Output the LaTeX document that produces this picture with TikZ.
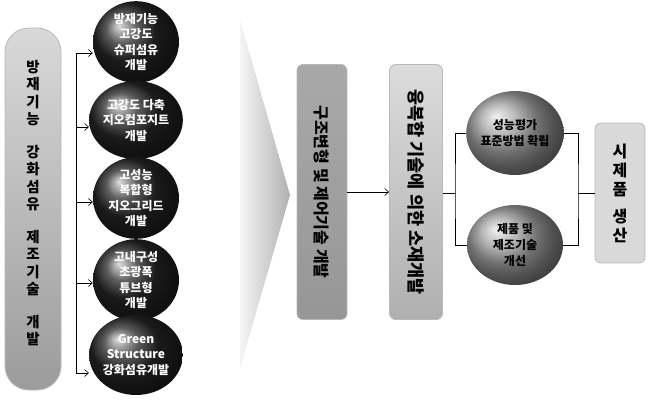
\documentclass[tikz,border=0pt]{standalone}
\usepackage{fontspec}
\usepackage{graphicx}
\newfontfamily\kr{Noto Sans CJK KR}
\usetikzlibrary{shapes.geometric,arrows.meta}
\begin{document}
\begin{tikzpicture}[x=1pt,y=-1pt,
  conn/.style={draw=black,line width=0.6pt},
  arr/.style={conn,-{Straight Barb[length=4pt,width=7pt]}},
  darkball/.style={ellipse,inner sep=0pt,minimum width=86pt,minimum height=78pt,
     ball color=black!85,text=white,align=center,
     font=\kr\bfseries\fontsize{12}{15.5}\selectfont},
  greyball/.style={ellipse,inner sep=0pt,minimum width=96pt,minimum height=84pt,
     ball color=gray!75,text=black,align=center,
     font=\kr\bfseries\fontsize{12}{16}\selectfont},
  vbar/.style={rectangle,inner sep=0pt,draw=gray!55,line width=0.8pt}
]
\useasboundingbox (0,0) rectangle (648,400);
\fill[white] (0,0) rectangle (648,400);

% left bar
\node[vbar,minimum width=56pt,minimum height=362pt,rounded corners=24pt,
      top color=gray!30,bottom color=gray!78] (bar) at (33,209) {};
\node[font=\kr\bfseries\fontsize{14.5}{17.5}\selectfont,align=center,inner sep=0pt] (bartext) at (33,203)
  {방\\재\\기\\능\\[15pt]강\\화\\섬\\유\\[15pt]제\\조\\기\\술\\[15pt]개\\발};

% left circles
\node[darkball] (c1) at (136,42) {방재기능\\고강도\\슈퍼섬유\\개발};
\node[darkball] (c2) at (136,120) {고강도 다축\\지오컴포지트\\개발};
\node[darkball] (c3) at (136,198) {고성능\\복합형\\지오그리드\\개발};
\node[darkball] (c4) at (136,280) {고내구성\\초광폭\\튜브형\\개발};
\node[darkball,minimum height=80pt] (c5) at (136,355) {Green\\Structure\\강화섬유개발};

\coordinate (j1) at (76,53);
\coordinate (j2) at (76,127);
\coordinate (j3) at (76,202);
\coordinate (j4) at (76,283);
\coordinate (j5) at (76,373);
\draw[conn] (j1) -- (j5);
\draw[arr] (j1) -- (j1 -| c1.west);
\draw[arr] (j2) -- (j2 -| c2.west);
\draw[arr] (j3) -- (j3 -| c3.west);
\draw[arr] (j4) -- (j4 -| c4.west);
\draw[arr] (j5) -- (j5 -| c5.west);

% big chevron
\shade[left color=gray!8,right color=gray!62] (240,20) -- (290,195) -- (240,368) -- cycle;

% middle boxes
\node[vbar,minimum width=50pt,minimum height=255pt,rounded corners=6pt,
      top color=gray!68,bottom color=gray!82,
      font=\kr\bfseries\fontsize{16}{18}\selectfont] (b1) at (322,192)
  {\rotatebox{-90}{구조변형 및 제어기술 개발}};
\node[vbar,minimum width=53pt,minimum height=255pt,rounded corners=6pt,
      top color=gray!28,bottom color=gray!62,
      font=\kr\bfseries\fontsize{17.5}{19}\selectfont] (b2) at (416,192)
  {\rotatebox{-90}{융복합 기술에 의한 소재개발}};
\draw[arr] (b1.east) -- (b2.west);

% right circles
\node[greyball] (r1) at (515,133) {성능평가\\표준방법 확립};
\node[greyball,minimum height=80pt] (r2) at (515,245) {제품 및\\제조기술\\개선};

\coordinate (s1) at (455,193);
\coordinate (s2) at (578,193);
\draw[conn] (b2.east |- s1) -- (s1);
\draw[conn] (r1.west) -| (s1) |- (r2.west);
\draw[conn] (r1.east) -| (s2) |- (r2.east);

% final box
\node[vbar,minimum width=50pt,minimum height=140pt,rounded corners=6pt,
      fill=gray!30,align=center,
      font=\kr\bfseries\fontsize{16}{19}\selectfont] (b3) at (620,193)
  {시\\제\\품\\[8pt]생\\산};
\draw[conn] (s2) -- (b3.west);
\end{tikzpicture}
\end{document}
